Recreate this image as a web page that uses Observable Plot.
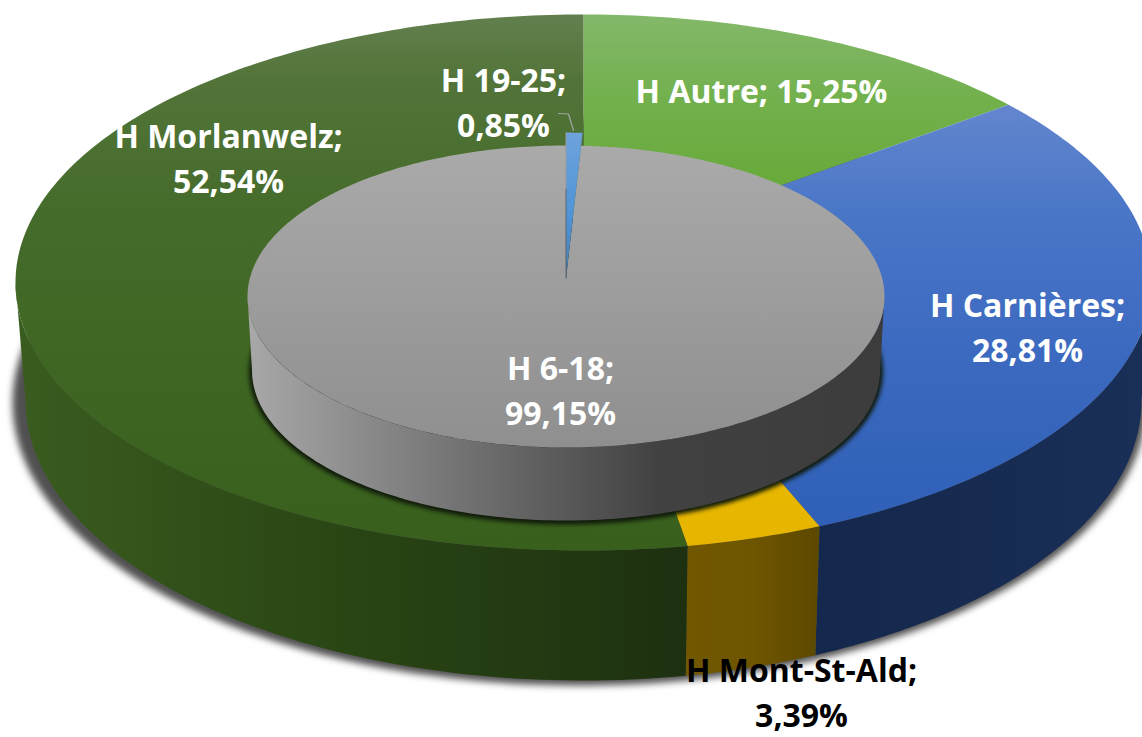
<!DOCTYPE html>
<html>
<head>
<meta charset="utf-8">
<script src="https://cdn.jsdelivr.net/npm/d3@7"></script>
<script src="https://cdn.jsdelivr.net/npm/@observablehq/plot@0.6"></script>
<style>
html,body{margin:0;padding:0;background:#fff;overflow:hidden}
svg{display:block}
</style>
</head>
<body>
<div id="chart"></div>
<script>
// ---- Data ----
const ringCategories = ["H Autre", "H Carnières", "H Mont-St-Ald", "H Morlanwelz"];
const ringValues = [15.25, 28.81, 3.39, 52.54];
const pieCategories = ["H 19-25", "H 6-18"];
const pieValues = [0.85, 99.15];

// ---- Layout (not data) ----
const W = 1142, H = 737;
const discs = {
  ringTop:    {cx: 583, cy: 282, rx: 568, ry: 268, k: -0.1, w: 0.043},
  ringBottom: {cx: 583, cy: 400, rx: 558, ry: 280, k: -0.1, w: 0.043},
  ringShadow: {cx: 579, cy: 402, rx: 567, ry: 283, k: 0, w: 0},
  pieTop:     {cx: 565.5, cy: 296, rx: 318.5, ry: 151, k: -0.12, w: 0},
  pieBottom:  {cx: 565.5, cy: 370, rx: 314, ry: 150, k: -0.12, w: 0},
  pieShadow:  {cx: 565.5, cy: 371, rx: 317, ry: 153, k: 0, w: 0}
};
const labelLayout = [
  {series: "ring", i: 0, x: 761, y: 88,  fill: "#fff", sep: " "},
  {series: "ring", i: 1, x: 1027, y: 325, fill: "#fff", sep: "\n"},
  {series: "ring", i: 2, x: 801, y: 690, fill: "#000", sep: "\n"},
  {series: "ring", i: 3, x: 228, y: 156, fill: "#fff", sep: "\n"},
  {series: "pie",  i: 0, x: 503, y: 100, fill: "#fff", sep: "\n"},
  {series: "pie",  i: 1, x: 560, y: 388, fill: "#fff", sep: "\n"}
];
const leader = [{x: 558, y: 113}, {x: 568, y: 113.5}, {x: 573, y: 130}];

// Projects a point of a unit disc (share of turn clockwise from the top, radius) on the page
function project(d, share, r = 1) {
  const t0 = share * 2 * Math.PI, t = t0 - d.w * Math.sin(t0);
  const u = r * Math.sin(t), v = -r * Math.cos(t);
  const q = 1 + d.k * v;
  return {x: d.cx + d.rx * u * Math.sqrt(1 - d.k * d.k) / q, y: d.cy + d.ry * (v + d.k) / q};
}
function arc(d, a, b, r = 1) {
  const n = Math.max(2, Math.ceil(Math.abs(b - a) * 360));
  return d3.range(n + 1).map(i => project(d, a + (b - a) * i / n, r));
}
const sector = (d, a, b, r = 1) => [project(d, 0, 0), ...arc(d, a, b, r)];
const ellipse = d => arc(d, 0, 1);
// Shares of the turn at the rim's rightmost and leftmost points: only what lies between shows a wall
function silhouette(d) {
  const shares = d3.range(0, 1, 1 / 2000);
  return [d3.greatest(shares, s => project(d, s).x), d3.least(shares, s => project(d, s).x)];
}
// A wall joins the visible front part of the top rim to the same part of the bottom rim
function wall(top, bottom, a, b) {
  const [right, left] = silhouette(top);
  const from = Math.max(a, right), to = Math.min(b, left);
  if (to <= from) return [];
  return [...arc(top, from, to), ...arc(bottom, to, from)];
}

function spans(values) {
  const total = d3.sum(values);
  let acc = 0;
  return values.map(v => { const a = acc / total; acc += v; return [a, acc / total]; });
}
const ringSpans = spans(ringValues), pieSpans = spans(pieValues);

const fillMark = (pts, fill, extra = {}) =>
  Plot.line(pts, {x: "x", y: "y", fill, stroke: "none", ...extra});

// Gradients
function gradient(id, vertical, from, to, stops) {
  const attrs = vertical ? `x1="0" x2="0" y1="${from}" y2="${to}"` : `y1="0" y2="0" x1="${from}" x2="${to}"`;
  return `<linearGradient id="${id}" gradientUnits="userSpaceOnUse" ${attrs}>` +
    stops.map(([o, c]) => `<stop offset="${o}" stop-color="${c}"/>`).join("") + `</linearGradient>`;
}
const defs = () => {
  const g = document.createElementNS("http://www.w3.org/2000/svg", "defs");
  g.innerHTML = [
    gradient("topAutre", true, 14, 190, [[0, "#83b86a"], [0.5, "#72b04c"], [1, "#67a93a"]]),
    gradient("topCarn", true, 105, 530, [[0, "#6386ce"], [0.25, "#4a76c7"], [0.6, "#3b69bf"], [1, "#2f5fb7"]]),
    gradient("topMont", true, 480, 550, [[0, "#e8b800"], [1, "#e6b400"]]),
    gradient("topMorl", true, 14, 550, [[0, "#62804f"], [0.12, "#537439"], [0.35, "#466c2c"], [0.65, "#3f6622"], [1, "#38601c"]]),
    gradient("wallCarn", false, 812, 1142, [[0, "#14274c"], [1, "#1a2f57"]]),
    gradient("wallMont", false, 686, 818, [[0, "#715700"], [0.5, "#6e5500"], [1, "#5c4800"]]),
    gradient("wallMorl", false, 20, 686, [[0, "#3a5c1f"], [0.45, "#2b4715"], [1, "#1d3010"]]),
    gradient("pieTopG", true, 145, 448, [[0, "#aaaaaa"], [1, "#8f8f8f"]]),
    gradient("pieWall", false, 247, 884, [[0, "#a8a8a8"], [0.35, "#707070"], [0.65, "#414141"], [1, "#3c3c3c"]]),
    gradient("sliver", true, 130, 278, [[0, "#6fa3dc"], [0.6, "#4e93d6"], [1, "#4a7fb0"]])
  ].join("");
  return g;
};
const ringTops = ["url(#topAutre)", "url(#topCarn)", "url(#topMont)", "url(#topMorl)"];
const ringWalls = ["url(#wallCarn)", "url(#wallCarn)", "url(#wallMont)", "url(#wallMorl)"];

const fmt = v => v.toFixed(2).replace(".", ",") + "%";
const labels = labelLayout.map(l => {
  const cats = l.series === "ring" ? ringCategories : pieCategories;
  const vals = l.series === "ring" ? ringValues : pieValues;
  return {...l, text: `${cats[l.i]};${l.sep}${fmt(vals[l.i])}`};
});

const marks = [
  defs,
  // outer ring: shadow, walls, top faces
  fillMark(ellipse(discs.ringShadow), "#505050", {imageFilter: "blur(3.5px)"}),
  ...ringSpans.map(([a, b], i) => fillMark(wall(discs.ringTop, discs.ringBottom, a, b), ringWalls[i])),
  ...ringSpans.map(([a, b], i) => fillMark(sector(discs.ringTop, a, b), ringTops[i])),
  // inner pie: shadow, wall, top faces
  fillMark(ellipse(discs.pieShadow), "#101a0a", {imageFilter: "blur(2px)"}),
  fillMark(wall(discs.pieTop, discs.pieBottom, 0, 1), "url(#pieWall)"),
  fillMark(sector(discs.pieTop, pieSpans[1][0], pieSpans[1][1]), "url(#pieTopG)"),
  fillMark(sector(discs.pieTop, pieSpans[0][0], pieSpans[0][1], 1.11), "url(#sliver)"),
  Plot.line([project(discs.pieTop, 0, 0), project(discs.pieTop, 0, 0.65)], {x: "x", y: "y", stroke: "#555", strokeWidth: 1, strokeOpacity: 0.8}),
  Plot.line([project(discs.pieTop, 0, 0.65), project(discs.pieTop, 0, 1.11)], {x: "x", y: "y", stroke: "#999", strokeWidth: 1}),
  // leader and labels
  Plot.line(leader, {x: "x", y: "y", stroke: "#a6a6a6", strokeWidth: 1.2}),
  Plot.text(labels, {
    x: "x", y: "y", text: "text", fill: "fill",
    fontFamily: "Open Sans", fontWeight: 700, fontSize: 32, lineHeight: 1.41,
    textAnchor: "middle", lineAnchor: "middle", stroke: "none"
  })
];

const chart = Plot.plot({
  width: W, height: H,
  margin: 0,
  x: {axis: null, type: "linear", domain: [0, W], range: [0, W]},
  y: {axis: null, type: "linear", domain: [0, H], range: [0, H]},
  style: {background: "#fff"},
  marks
});
document.getElementById("chart").append(chart);
</script>
</body>
</html>
